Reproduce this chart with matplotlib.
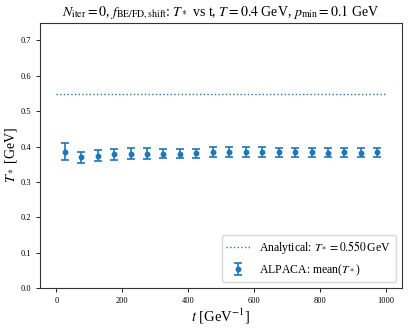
import numpy as np
import matplotlib
matplotlib.use("Agg")
import matplotlib.pyplot as plt

# data
t_vals = [25, 75, 125, 175, 225, 275, 325, 375, 425, 475,
          525, 575, 625, 675, 725, 775, 825, 875, 925, 975]
T_mean = [0.386, 0.370, 0.375, 0.378, 0.380, 0.380, 0.380, 0.380, 0.381, 0.384,
          0.384, 0.384, 0.384, 0.384, 0.384, 0.384, 0.383, 0.384, 0.383, 0.384]
T_err = [0.023, 0.016, 0.015, 0.015, 0.015, 0.015, 0.013, 0.012, 0.013, 0.014,
         0.014, 0.014, 0.014, 0.013, 0.013, 0.013, 0.013, 0.013, 0.013, 0.012]
T_analytic = 0.550
t_line = [0, 1000]

plt.rcParams['font.family'] = ['Liberation Serif', 'DejaVu Serif']
plt.rcParams['mathtext.fontset'] = 'stix'

fig = plt.figure(figsize=(4.11, 3.28), dpi=100)
ax = fig.add_axes([40/411, 1 - 288.3/328, (402 - 40)/411, (288.3 - 22.7)/328])

ax.plot(t_line, [T_analytic, T_analytic], linestyle=':', color='C0', lw=1.0,
        label=r'Analytical: $T_* = 0.550\,$GeV')
ax.errorbar(t_vals, T_mean, yerr=T_err, fmt='o', color='C0', ms=3.2,
            capsize=3.2, elinewidth=1.2, capthick=1.2,
            label=r'ALPACA: mean($T_*$)')

ax.set_xlim(-50, 1050)
ax.set_ylim(0, 0.75)
ax.set_xticks([0, 200, 400, 600, 800, 1000])
ax.set_yticks([0.0, 0.1, 0.2, 0.3, 0.4, 0.5, 0.6, 0.7])
ax.tick_params(labelsize=6, length=3, width=0.6)
for s in ax.spines.values():
    s.set_linewidth(0.8)
    s.set_color('#333333')

ax.set_xlabel(r'$t$ [GeV$^{-1}$]', fontsize=10.5, labelpad=1)
ax.set_ylabel(r'$T_*$ [GeV]', fontsize=10)
ax.yaxis.set_label_coords(-0.058, 0.5)
ax.set_title(r'$N_{\rm iter}=0$, $f_{\rm BE/FD,shift}$: $T_*$ vs t, $T=0.4$ GeV, $p_{\rm min}=0.1$ GeV',
             fontsize=10, pad=5)
ax.legend(loc='lower right', fontsize=8.5, framealpha=0.8)

fig.savefig('out.png', dpi=100)
